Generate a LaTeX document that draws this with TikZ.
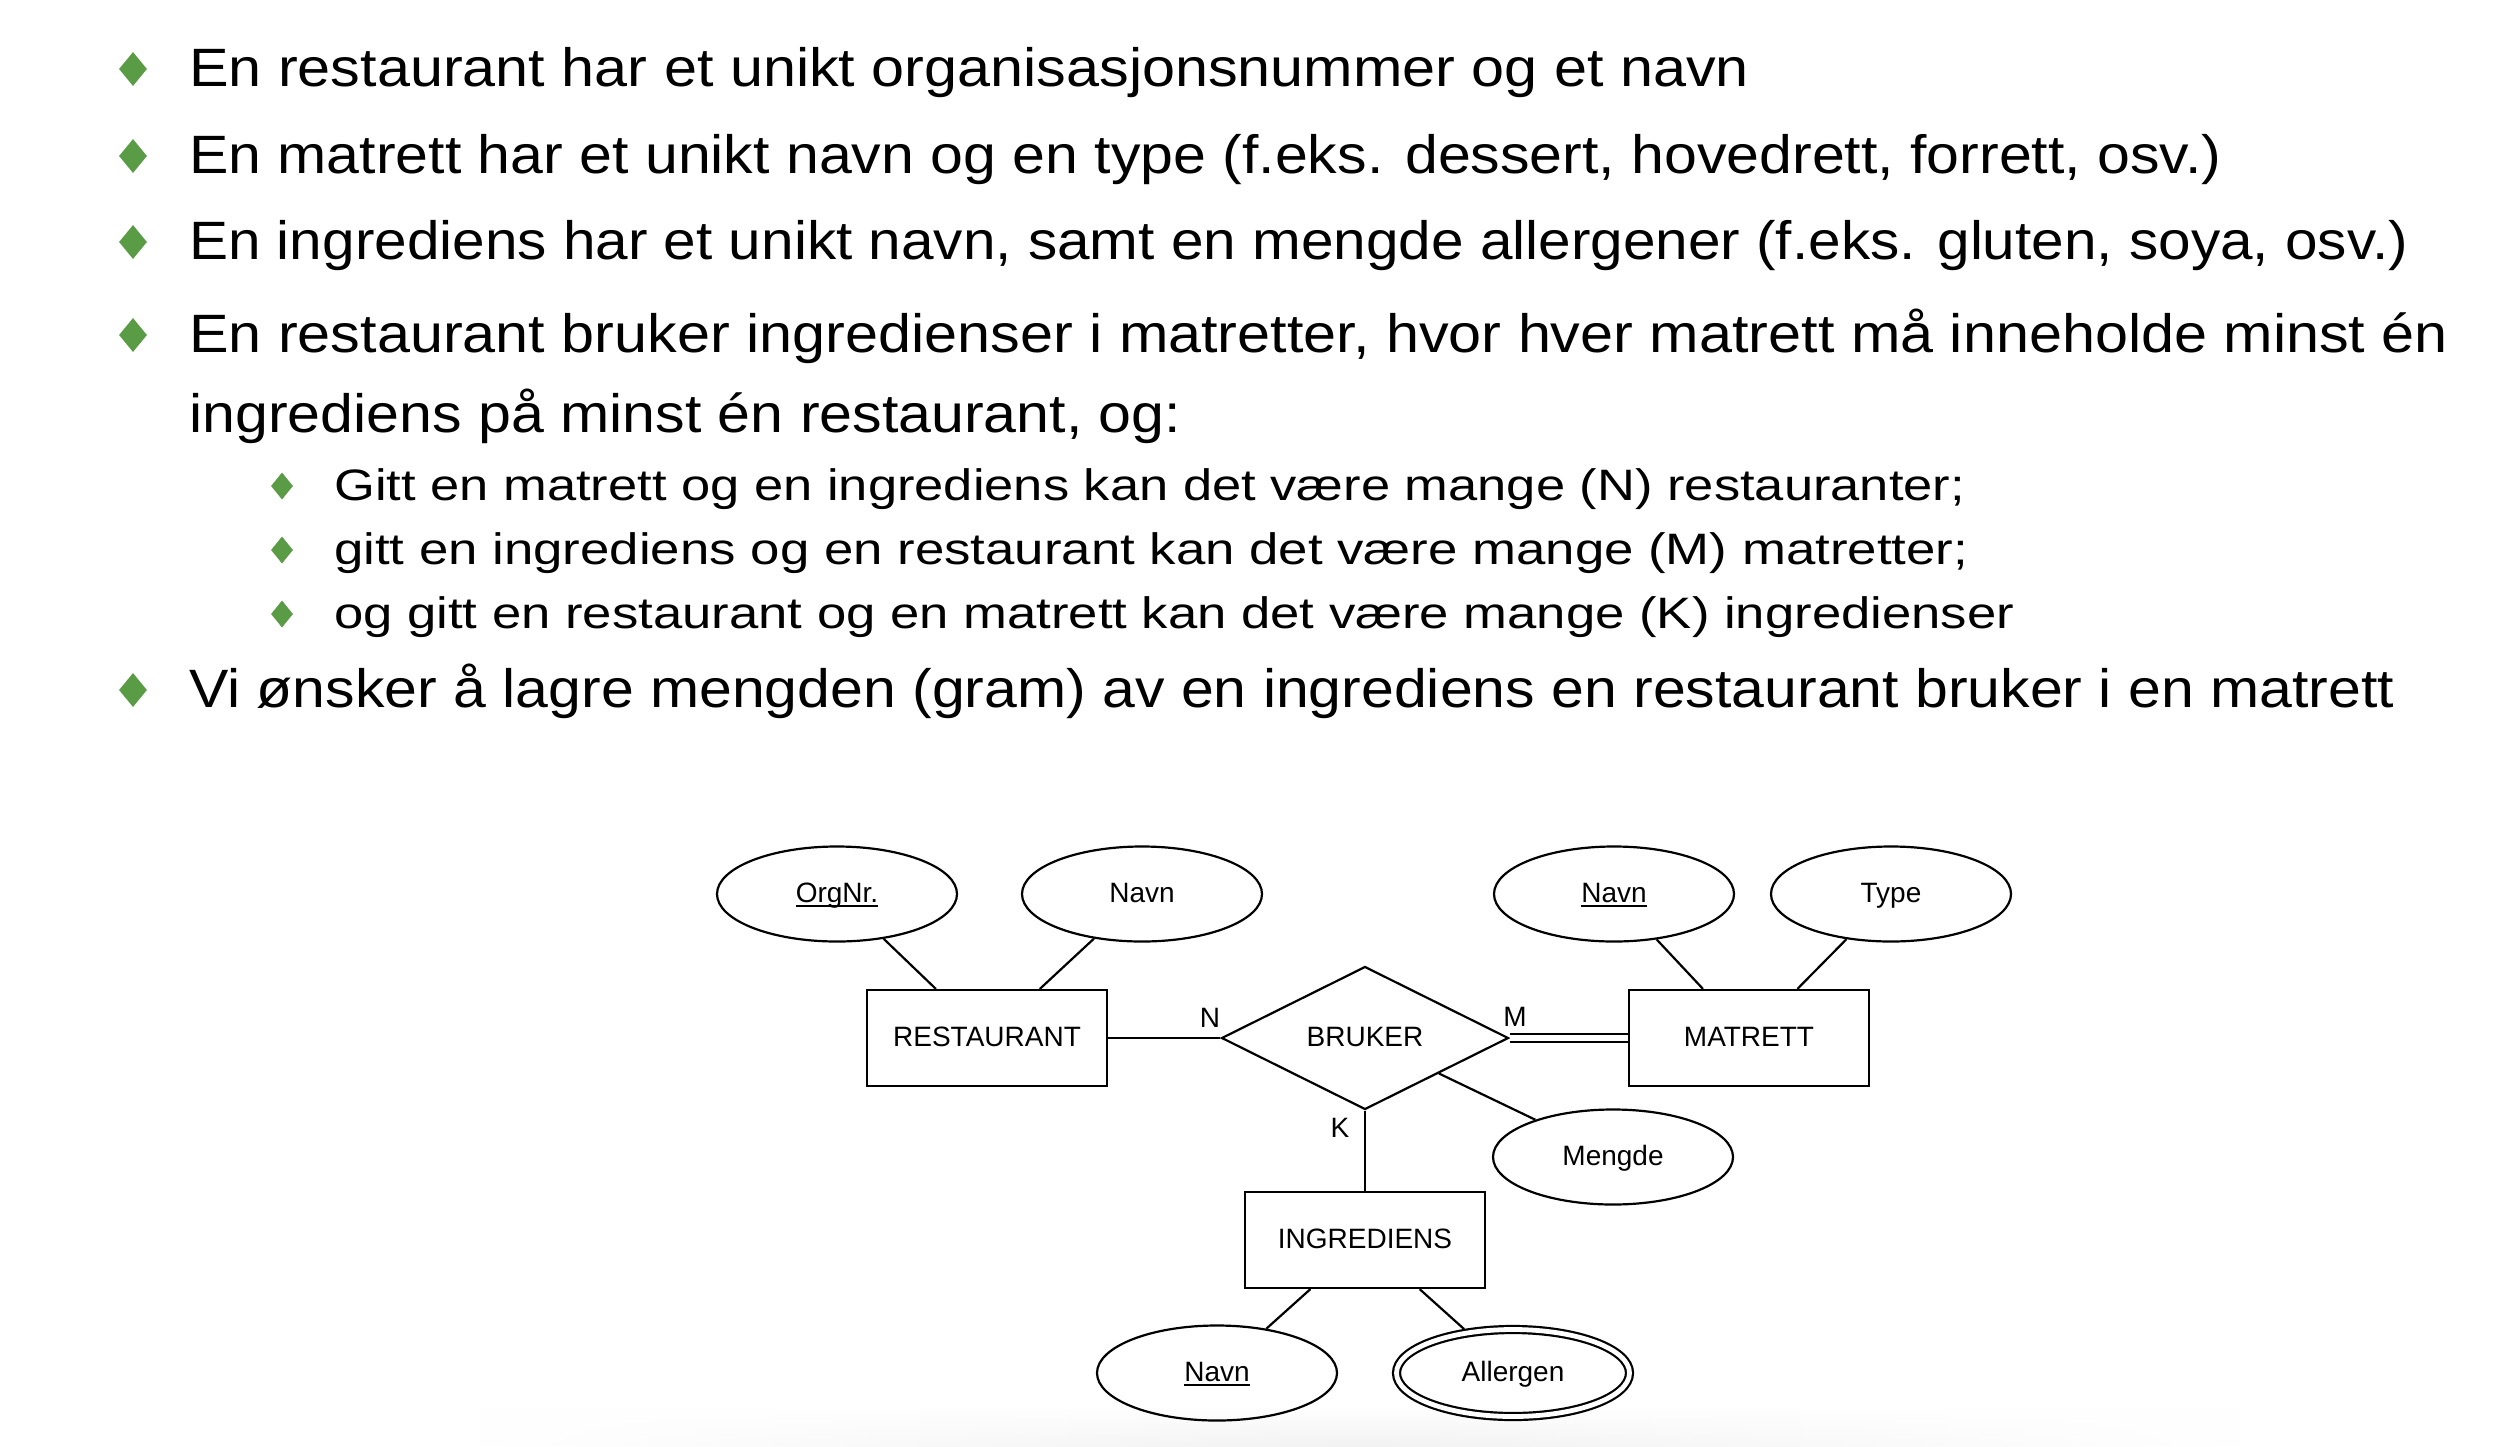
\documentclass[tikz,border=0pt]{standalone}
\usepackage{graphicx}
\usepackage{fontspec}
\setmainfont{Liberation Sans}
\usetikzlibrary{shapes.geometric,fadings}
\definecolor{bulletgreen}{RGB}{90,155,70}
\newsavebox\fitbox
\newcommand\fitline[2]{\sbox\fitbox{#2}\pgfmathsetmacro\fitratio{#1/\the\wd\fitbox}\scalebox{\fitratio}[1]{\usebox\fitbox}}
\newcommand\ulbar[1]{\sbox\fitbox{#1}\rlap{\rule[-5pt]{\wd\fitbox}{2pt}}\usebox\fitbox}
\tikzfading[name=sidefade, left color=transparent!100, right color=transparent!100, middle color=transparent!0]
\begin{document}
\begin{tikzpicture}[x=1pt,y=-1pt,
  maintext/.style={anchor=base west, inner sep=0pt, font=\fontsize{54}{60}\selectfont},
  subtext/.style={anchor=base west, inner sep=0pt, font=\fontsize{44}{50}\selectfont},
  bul/.style={diamond, fill=bulletgreen, minimum width=28pt, minimum height=34pt, inner sep=0pt},
  subbul/.style={diamond, fill=bulletgreen, minimum width=22pt, minimum height=27pt, inner sep=0pt},
  er/.style={line width=2.2pt, inner sep=0pt, text height=16pt, text depth=0pt, font=\fontsize{28}{32}\selectfont},
  entity/.style={er, draw, rectangle, minimum width=240pt, minimum height=96pt, outer sep=1.1pt},
  attr/.style={er, draw, ellipse, minimum width=240pt, minimum height=95pt, outer sep=1.1pt},
  multiattr/.style={er, draw, ellipse, double, double distance=4.8pt, minimum width=233pt, minimum height=87pt, outer sep=4.6pt},
  rel/.style={er, draw, diamond, minimum width=287pt, minimum height=143pt, outer sep=1.1pt},
  card/.style={inner sep=0pt, font=\fontsize{28}{32}\selectfont},
  conn/.style={line width=2.2pt}
]
\fill[white] (0,0) rectangle (2508,1446);
\useasboundingbox (0,0) rectangle (2508,1446);
\shade[top color=white, bottom color=black!5, path fading=sidefade] (480,1405) rectangle (2240,1446);

% bullets
\node[bul] (b1) at (133,69) {};
\node[maintext] (t1) at (189,86) {\fitline{1560}{En restaurant har et unikt organisasjonsnummer og et navn}};
\node[bul] (b2) at (133,156) {};
\node[maintext] (t2) at (189,173) {\fitline{2032}{En matrett har et unikt navn og en type (f.eks. dessert, hovedrett, forrett, osv.)}};
\node[bul] (b3) at (133,242) {};
\node[maintext] (t3) at (189,259) {\fitline{2219}{En ingrediens har et unikt navn, samt en mengde allergener (f.eks. gluten, soya, osv.)}};
\node[bul] (b4) at (133,335) {};
\node[maintext] (t4) at (189,352) {\fitline{2259}{En restaurant bruker ingredienser i matretter, hvor hver matrett må inneholde minst én}};
\node[maintext] (t5) at (189,432) {\fitline{992}{ingrediens på minst én restaurant, og:}};
\node[subbul] (s1) at (282,486) {};
\node[subtext] (u1) at (334,500) {\fitline{1631}{Gitt en matrett og en ingrediens kan det være mange (N) restauranter;}};
\node[subbul] (s2) at (282,550) {};
\node[subtext] (u2) at (334,564) {\fitline{1634}{gitt en ingrediens og en restaurant kan det være mange (M) matretter;}};
\node[subbul] (s3) at (282,614) {};
\node[subtext] (u3) at (334,628) {\fitline{1680}{og gitt en restaurant og en matrett kan det være mange (K) ingredienser}};
\node[bul] (b5) at (133,690) {};
\node[maintext] (t6) at (189,707) {\fitline{2205}{Vi ønsker å lagre mengden (gram) av en ingrediens en restaurant bruker i en matrett}};

% ER diagram
\node[attr] (orgnr) at (837,894) {\ulbar{OrgNr.}};
\node[attr] (navnR) at (1142,894) {Navn};
\node[attr] (navnM) at (1614,894) {\ulbar{Navn}};
\node[attr] (type) at (1891,894) {Type};
\node[entity] (restaurant) at (987,1038) {RESTAURANT};
\node[rel] (bruker) at (1365,1038) {BRUKER};
\node[entity] (matrett) at (1749,1038) {MATRETT};
\node[attr] (mengde) at (1613,1157) {Mengde};
\node[entity] (ingrediens) at (1365,1240) {INGREDIENS};
\node[attr] (navnI) at (1217,1373) {\ulbar{Navn}};
\node[multiattr] (allergen) at (1513,1373) {Allergen};

\node[card] (cN) at (1210,1018) {N};
\node[card] (cM) at (1515,1017) {M};
\node[card] (cK) at (1340,1128) {K};

\draw[conn] (orgnr) -- (restaurant);
\draw[conn] (navnR) -- (restaurant);
\draw[conn] (navnM) -- (matrett);
\draw[conn] (type) -- (matrett);
\draw[conn] (restaurant) -- (bruker);
\draw[conn, double, double distance=6.5pt] (bruker) -- (matrett);
\draw[conn] (bruker) -- (ingrediens);
\draw[conn] (bruker) -- (mengde);
\draw[conn] (ingrediens) -- (navnI);
\draw[conn] (ingrediens) -- (allergen);
\end{tikzpicture}
\end{document}
